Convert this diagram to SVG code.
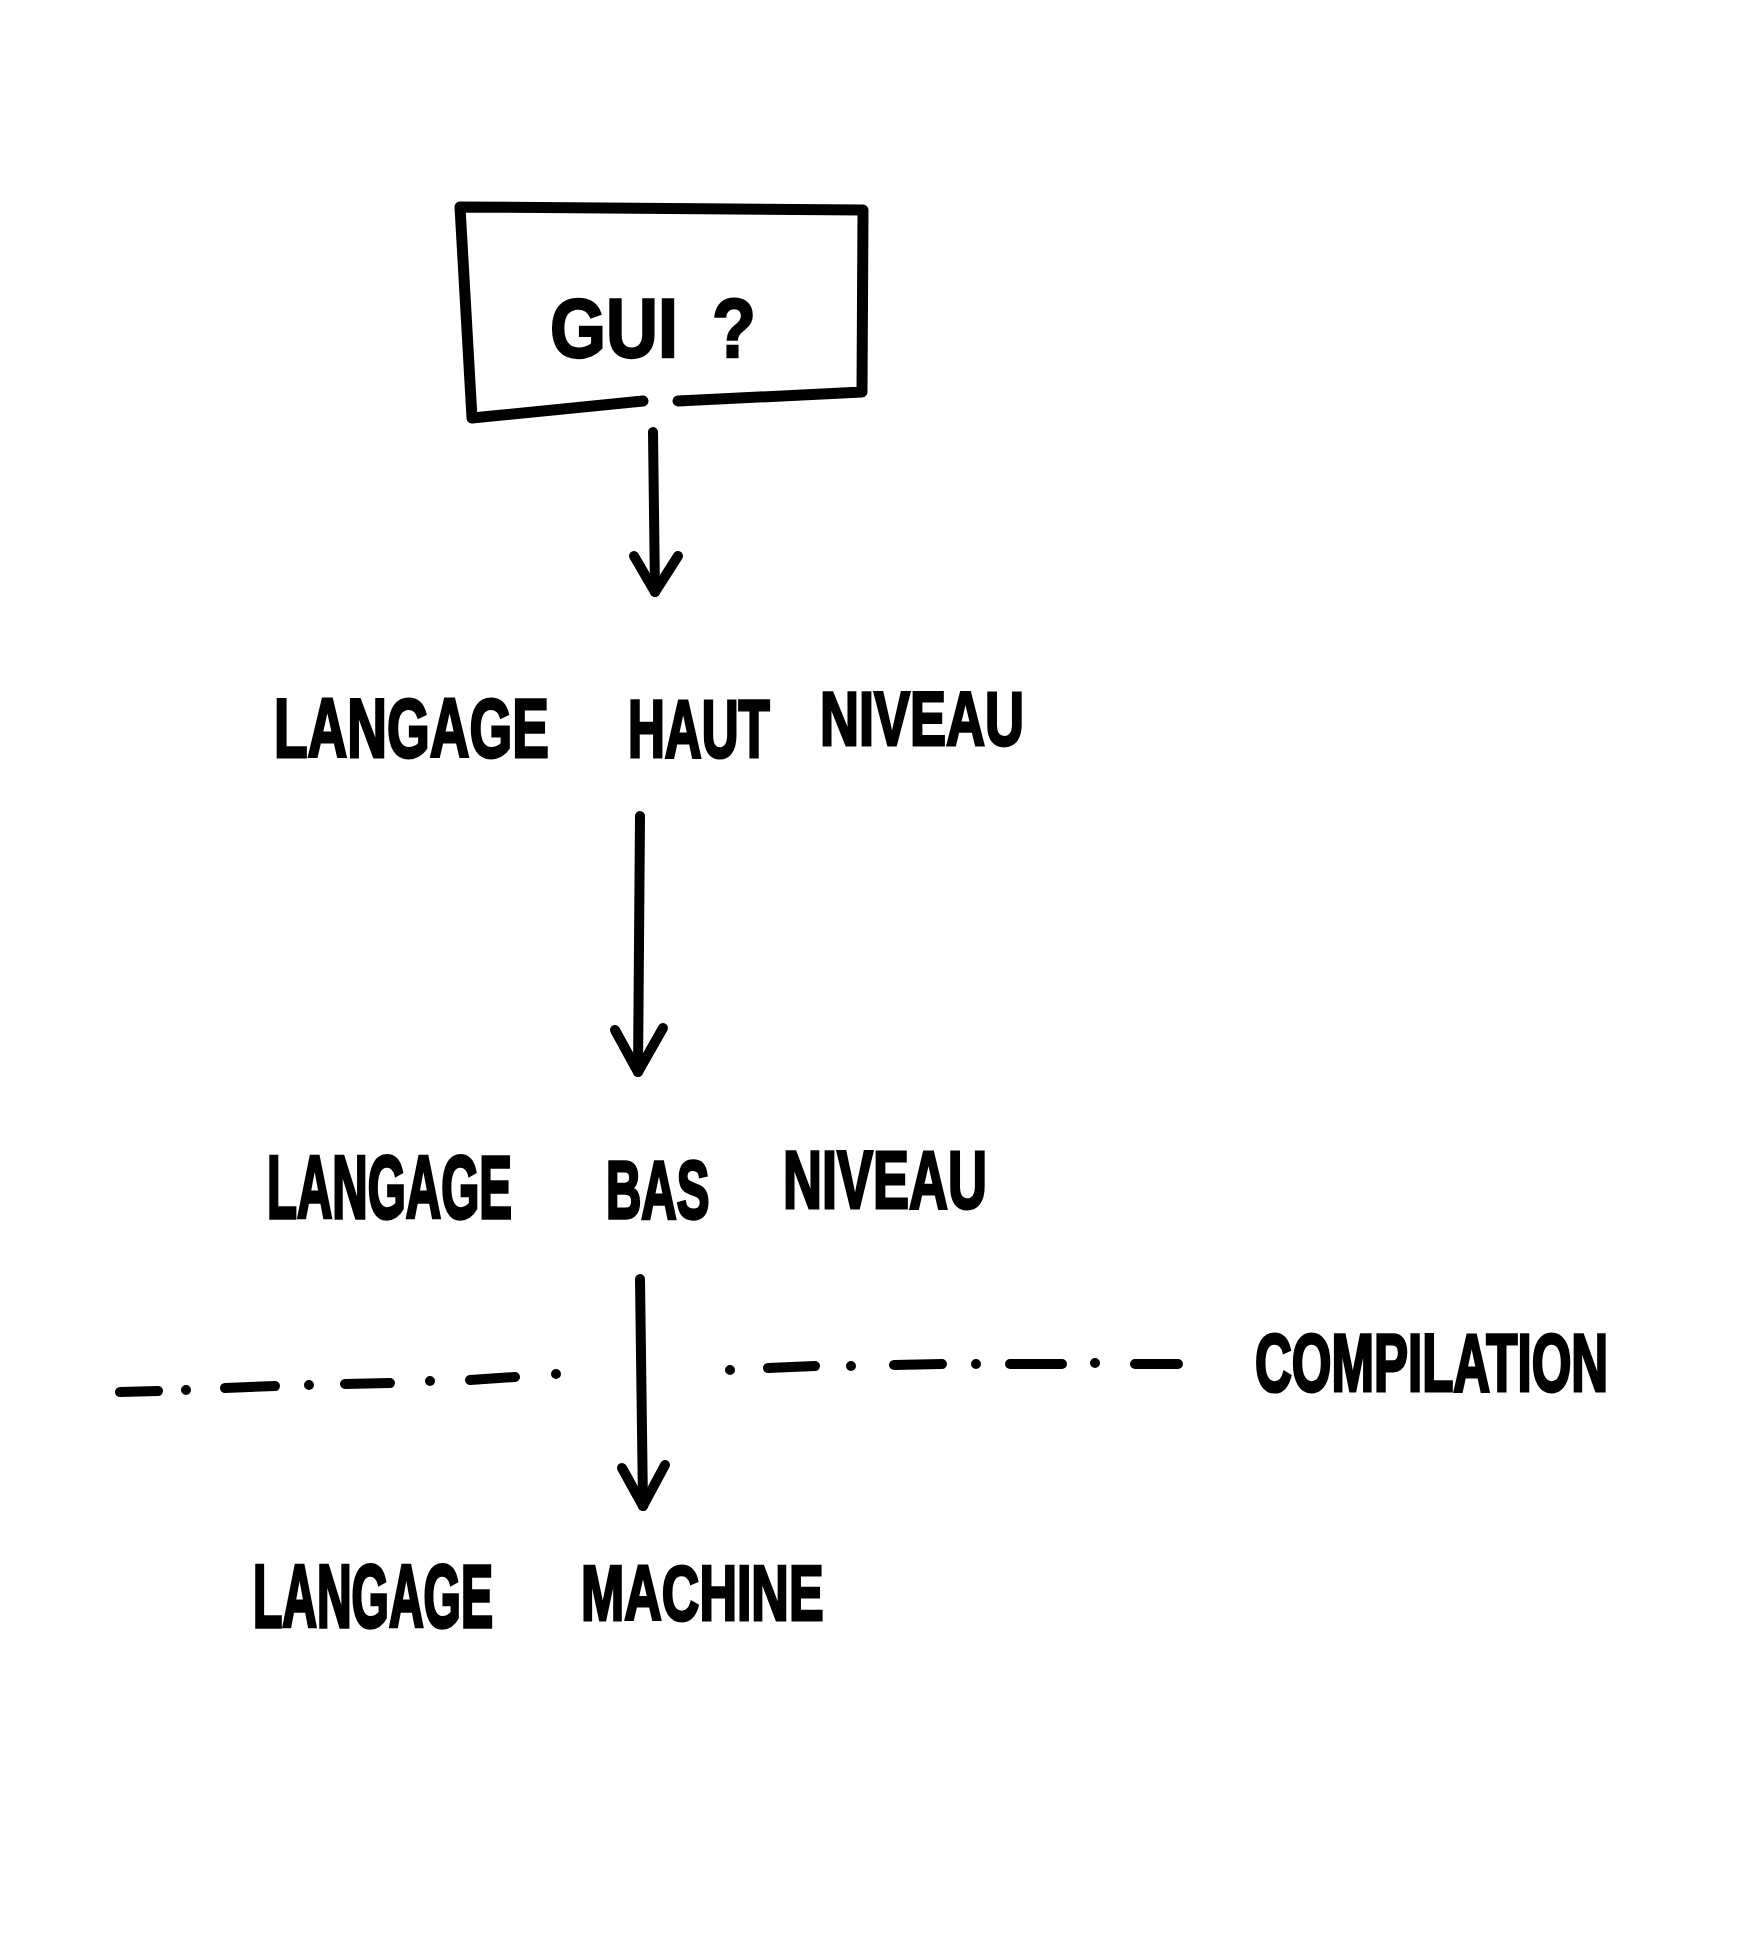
<svg xmlns="http://www.w3.org/2000/svg" width="1757" height="1939" viewBox="0 0 1757 1939">
<style>
.ink{fill:none;stroke:#000;stroke-width:10;stroke-linecap:round;stroke-linejoin:round}
.box{fill:none;stroke:#000;stroke-width:11;stroke-linecap:round;stroke-linejoin:round}
.lbl{font-family:"Liberation Sans","DejaVu Sans",sans-serif;font-weight:bold;fill:#000;stroke:#000;stroke-width:2}
.dash{fill:none;stroke:#000;stroke-width:10;stroke-linecap:round}
</style>
<rect width="1757" height="1939" fill="#fff"/>
<g id="node-gui">
<path class="box" d="M643,401 L472,418 L460,207 L863,210 L862,392 L678,401"/>
<text class="lbl" transform="translate(550 357) scale(1 1.15)" font-size="72">GUI</text>
<text class="lbl" transform="translate(712 357) scale(1 1.15)" font-size="72">?</text>
</g>
<g id="node-haut">
<text class="lbl" transform="translate(274 757) scale(1 1.5)" font-size="55">LANGAGE</text>
<text class="lbl" transform="translate(628 757) scale(1 1.6)" font-size="51">HAUT</text>
<text class="lbl" transform="translate(820 745) scale(1 1.4)" font-size="54">NIVEAU</text>
</g>
<g id="node-bas">
<text class="lbl" transform="translate(267 1218) scale(1 1.8)" font-size="49">LANGAGE</text>
<text class="lbl" transform="translate(606 1218) scale(1 1.65)" font-size="49">BAS</text>
<text class="lbl" transform="translate(783 1208) scale(1 1.5)" font-size="54">NIVEAU</text>
</g>
<g id="node-machine">
<text class="lbl" transform="translate(253 1627) scale(1 1.85)" font-size="48">LANGAGE</text>
<text class="lbl" transform="translate(581 1620) scale(1 1.5)" font-size="52">MACHINE</text>
</g>
<g id="node-compilation">
<text class="lbl" transform="translate(1255 1391) scale(1 1.6)" font-size="51">COMPILATION</text>
</g>
<g id="connectors">
<path class="ink" d="M653,432 L655,592"/>
<path class="ink" d="M634,556 L655,592 L678,556"/>
<path class="ink" d="M640,816 L638,1072"/>
<path class="ink" d="M615,1030 L638,1072 L663,1028"/>
<path class="ink" d="M640,1279 L643,1506"/>
<path class="ink" d="M622,1468 L643,1506 L665,1465"/>
<g id="compilation-line">
<path class="dash" d="M120,1392 L158,1391 M186,1390 L186,1390 M225,1388 L275,1386 M309,1385 L309,1385 M345,1384 L390,1383 M430,1381 L430,1381 M470,1380 L515,1377 M556,1374 L556,1374"/>
<path class="dash" d="M730,1370 L730,1370 M768,1368 L815,1366 M851,1366 L851,1366 M894,1365 L942,1364 M976,1364 L976,1364 M1010,1364 L1062,1364 M1095,1363 L1095,1363 M1135,1364 L1178,1364"/>
</g>
</g>
</svg>
